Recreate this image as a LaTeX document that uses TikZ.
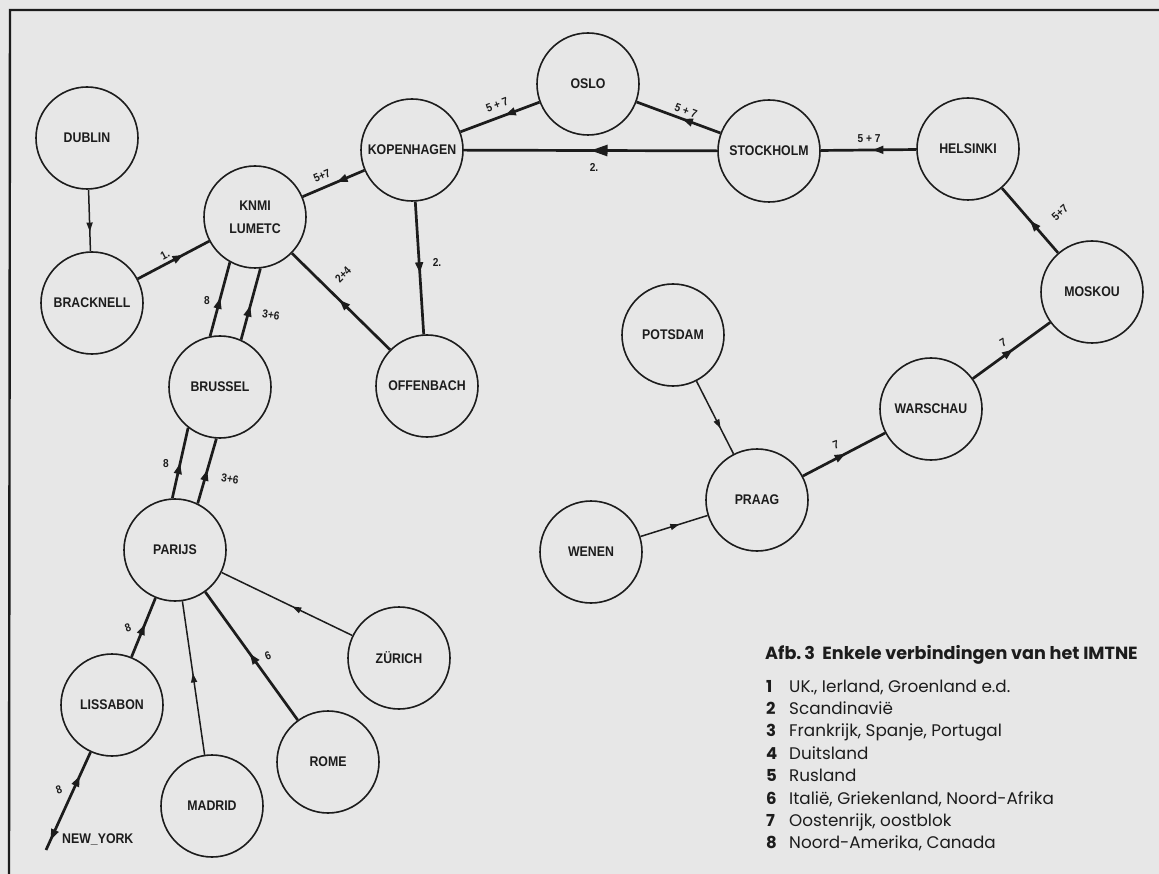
\documentclass[tikz,border=0pt]{standalone}
\usepackage{fontspec}
\setmainfont{Liberation Sans}
\newfontfamily\cityfont{Liberation Sans}[FakeStretch=0.88]
\newfontfamily\legendfont{Poppins}
\usetikzlibrary{arrows.meta,decorations.markings}
\definecolor{paper}{RGB}{231,231,231}
\definecolor{ink}{RGB}{28,28,28}
\tikzset{
  city/.style={circle,draw=ink,line width=1.6pt,minimum size=102pt,inner sep=0pt,
    font=\cityfont\bfseries\fontsize{14}{23}\selectfont,align=center,text=ink},
  thickedge/.style={draw=ink,line width=2.7pt},
  thinedge/.style={draw=ink,line width=1.5pt},
  midarr/.style={postaction={decorate},decoration={markings,
    mark=at position #1 with {\arrow{Triangle[length=11pt,width=7.5pt]}}}},
  bigarr/.style={postaction={decorate},decoration={markings,
    mark=at position #1 with {\arrow{Triangle[length=17pt,width=11pt]}}}},
  smallarr/.style={postaction={decorate},decoration={markings,
    mark=at position #1 with {\arrow{Triangle[length=9pt,width=6pt]}}}},
  nyarr/.style={postaction={decorate},decoration={markings,
    mark=at position 0.24 with {\arrowreversed{Triangle[length=11pt,width=7.5pt]}},
    mark=at position 0.9 with {\arrow{Triangle[length=11pt,width=7.5pt]}}}},
  elabel/.style={font=\cityfont\bfseries\fontsize{11.5}{12}\selectfont,text=ink,inner sep=0pt},
  legnum/.style={anchor=base west,inner sep=0pt,text=ink,font=\legendfont\bfseries\fontsize{16.5}{18}\selectfont},
  legtext/.style={anchor=base west,inner sep=0pt,text=ink,font=\legendfont\fontsize{16.8}{18}\selectfont},
}
\begin{document}
\begin{tikzpicture}[x=1pt,y=-1pt]
\fill[paper] (0,0) rectangle (1159,874);
\useasboundingbox (0,0) rectangle (1159,874);
% frame
\draw[ink,line width=2.4pt] (9,874) -- (10,10) -- (1159,10);

% cities
\node[city] (dub) at (87,138) {DUBLIN};
\node[city] (knmi) at (255,217) {KNMI\\LUMETC};
\node[city] (kop) at (412,150) {KOPENHAGEN};
\node[city] (osl) at (588,84) {OSLO};
\node[city] (sto) at (769,151) {STOCKHOLM};
\node[city] (hel) at (968,149) {HELSINKI};
\node[city] (mos) at (1092,292) {MOSKOU};
\node[city] (brk) at (92,303) {BRACKNELL};
\node[city] (bru) at (220,387) {BRUSSEL};
\node[city] (off) at (427,386) {OFFENBACH};
\node[city] (pot) at (673,335) {POTSDAM};
\node[city] (war) at (931,409) {WARSCHAU};
\node[city] (pra) at (757,500) {PRAAG};
\node[city] (wen) at (591,552) {WENEN};
\node[city] (par) at (175,550) {PARIJS};
\node[city] (zur) at (399,658) {ZÜRICH};
\node[city] (lis) at (112,705) {LISSABON};
\node[city] (rom) at (328,762) {ROME};
\node[city] (mad) at (212,806) {MADRID};
\coordinate (ny) at (46,850);
\node[anchor=west,inner sep=0pt,text=ink,font=\cityfont\bfseries\fontsize{14}{14}\selectfont] (nyl) at (62,839) {NEW\_YORK};

% connectors
\draw[thinedge,smallarr=0.68] (dub) -- (brk);
\draw[thickedge,midarr=0.64] (brk) -- (knmi);
\draw[thickedge,midarr=0.45] (kop) -- (knmi);
\draw[thickedge,midarr=0.44] (osl) -- (kop);
\draw[thickedge,bigarr=0.5] (sto) -- (kop);
\draw[thickedge,midarr=0.46] (sto) -- (osl);
\draw[thickedge,midarr=0.46] (hel) -- (sto);
\draw[thickedge,midarr=0.5] (mos) -- (hel);
\draw[thickedge,midarr=0.52] (war) -- (mos);
\draw[thickedge,midarr=0.52] (pra) -- (war);
\draw[thinedge,smallarr=0.65] (pot) -- (pra);
\draw[thinedge,smallarr=0.58] (wen) -- (pra);
\draw[thickedge,midarr=0.54] (kop) -- (off);
\draw[thickedge,midarr=0.52] (off) -- (knmi);
\draw[thickedge,midarr=0.52] (bru.101) -- (knmi.241);
\draw[thickedge,midarr=0.48] (bru.66) -- (knmi.-84);
\draw[thickedge,midarr=0.5] (par.93) -- (bru.232);
\draw[thickedge,midarr=0.52] (par.64) -- (bru.266);
\draw[thickedge,midarr=0.56] (lis) -- (par);
\draw[thinedge,smallarr=0.53] (mad) -- (par);
\draw[thickedge,midarr=0.52] (rom) -- (par);
\draw[thinedge,smallarr=0.46] (zur) -- (par);
\draw[thickedge,nyarr] (lis) -- (ny);

% connector labels
\node[elabel,rotate=28] (l1) at (165,255) {1.};
\node[elabel,rotate=23] (l2) at (322,176) {5+7};
\node[elabel,rotate=21] (l3) at (497,105) {5 + 7};
\node[elabel] (l4) at (594,167) {2.};
\node[elabel,rotate=-20] (l5) at (686,111) {5 + 7};
\node[elabel] (l6) at (869,139) {5 + 7};
\node[elabel,rotate=42] (l7) at (1060,213) {5+7};
\node[elabel,rotate=30] (l8) at (1003,343) {7};
\node[elabel,rotate=20] (l9) at (836,445) {7};
\node[elabel] (l10) at (437,262) {2.};
\node[elabel,rotate=45] (l11) at (343,275) {2+4};
\node[elabel] (l12) at (207,301) {8};
\node[elabel,rotate=-8] (l13) at (271,315) {3+6};
\node[elabel] (l14) at (166,464) {8};
\node[elabel,rotate=-8] (l15) at (230,479) {3+6};
\node[elabel,rotate=20] (l16) at (128,628) {8};
\node[elabel,rotate=20] (l17) at (268,656) {6};
\node[elabel,rotate=20] (l18) at (59,790) {8};

% legend
\node[anchor=base west,inner sep=0pt,text=ink,font=\legendfont\bfseries\fontsize{17.6}{18}\selectfont] (title) at (765,659) {Afb.\,3\ \ Enkele verbindingen van het IMTNE};
\node[legnum] (n1) at (766,692) {1}; \node[legtext] (t1) at (789,692) {UK., Ierland, Groenland e.d.};
\node[legnum] (n2) at (766,714.4) {2}; \node[legtext] (t2) at (789,714.4) {Scandinavië};
\node[legnum] (n3) at (766,736.8) {3}; \node[legtext] (t3) at (789,736.8) {Frankrijk, Spanje, Portugal};
\node[legnum] (n4) at (766,759.2) {4}; \node[legtext] (t4) at (789,759.2) {Duitsland};
\node[legnum] (n5) at (766,781.6) {5}; \node[legtext] (t5) at (789,781.6) {Rusland};
\node[legnum] (n6) at (766,804) {6}; \node[legtext] (t6) at (789,804) {Italië, Griekenland, Noord-Afrika};
\node[legnum] (n7) at (766,826.4) {7}; \node[legtext] (t7) at (789,826.4) {Oostenrijk, oostblok};
\node[legnum] (n8) at (766,848.8) {8}; \node[legtext] (t8) at (789,848.8) {Noord-Amerika, Canada};
\end{tikzpicture}
\end{document}
